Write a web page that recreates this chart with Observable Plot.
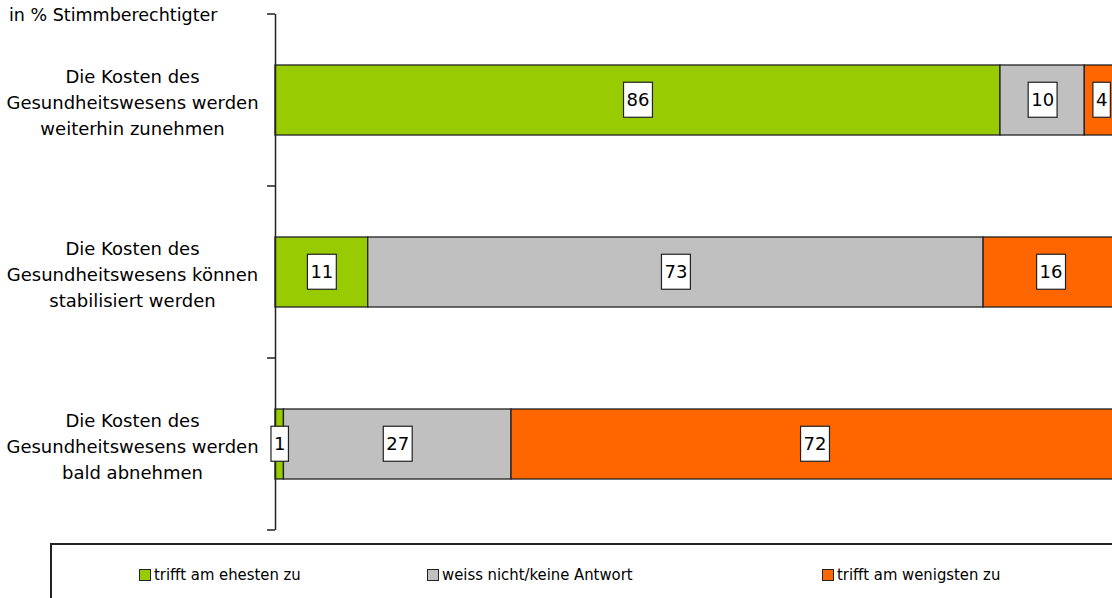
<!DOCTYPE html>
<html><head><meta charset="utf-8">
<script src="https://cdn.jsdelivr.net/npm/d3@7"></script>
<script src="https://cdn.jsdelivr.net/npm/@observablehq/plot@0.6"></script>
<style>
html,body{margin:0;padding:0;background:#fff;width:1112px;height:598px;overflow:hidden;}
body{position:relative;font-family:"DejaVu Sans",sans-serif;}
#chart{width:1118px;}
#chart svg{max-width:none !important;}
#unit{position:absolute;left:9px;top:5px;font-size:17.5px;color:#000;}
#legend{position:absolute;left:50px;top:543px;width:1100px;height:70px;border-top:2px solid #222;border-left:2px solid #222;font-family:"DejaVu Sans Condensed","DejaVu Sans",sans-serif;font-size:16.5px;}
.li{position:absolute;top:20px;display:flex;align-items:center;white-space:nowrap;}
.sw{width:10px;height:10px;border:1.5px solid #222;margin-right:3px;}
</style></head>
<body>
<div id="chart"></div>
<div id="unit">in % Stimmberechtigter</div>
<div id="legend"></div>
<script>
const categories = [
  "Die Kosten des\nGesundheitswesens werden\nweiterhin zunehmen",
  "Die Kosten des\nGesundheitswesens können\nstabilisiert werden",
  "Die Kosten des\nGesundheitswesens werden\nbald abnehmen"
];
const series = ["trifft am ehesten zu", "weiss nicht/keine Antwort", "trifft am wenigsten zu"];
const colors = ["#99cc00", "#c0c0c0", "#ff6600"];
const ehesten = [86, 11, 1];
const weissNicht = [10, 73, 27];
const wenigsten = [4, 16, 72];

const valuesBySeries = [ehesten, weissNicht, wenigsten];
const data = [];
categories.forEach((c, i) => {
  series.forEach((s, j) => data.push({cat: c, series: s, value: valuesBySeries[j][i]}));
});

const plot = Plot.plot({
  width: 1118,
  height: 543,
  marginLeft: 275,
  marginRight: 0,
  marginTop: 14,
  marginBottom: 13,
  style: {fontFamily: "DejaVu Sans, sans-serif", fontSize: "18px", color: "#000", background: "#fff"},
  x: {domain: [0, 100], axis: null},
  y: {domain: categories, padding: 0, axis: null, label: null},
  color: {domain: series, range: colors},
  marks: [
    Plot.barX(data, Plot.stackX({x: "value", y: "cat", fill: "series", order: series, insetTop: 51, insetBottom: 51, stroke: "#222", strokeWidth: 1.3})),
    Plot.ruleX([0], {stroke: "#222", strokeWidth: 1.5}),
    Plot.axisY({tickSize: 0, tickPadding: 143, textAnchor: "middle", lineHeight: 1.45, fontSize: 18, label: null, tickFormat: d => d}),
    Plot.text(data, Plot.stackX({x: "value", y: "cat", text: d => String(d.value), order: series, z: "series", className: "vals", fontSize: 18, fill: "#000"}))
  ]
});
document.getElementById("chart").appendChild(plot);

// boxes behind value labels
d3.select(plot).selectAll(".vals text").each(function() {
  const b = this.getBBox();
  const px = 3, py = 7;
  d3.select(this.parentNode).insert("rect", () => this)
    .attr("x", b.x - px).attr("y", b.y - py)
    .attr("width", b.width + 2 * px).attr("height", b.height + 2 * py)
    .attr("fill", "#fff").attr("stroke", "#222").attr("stroke-width", 1.2)
    .attr("transform", this.getAttribute("transform"));
});

// ticks at band boundaries
const ys = plot.scale("y");
const bounds = categories.map(c => ys.apply(c)).concat([ys.apply(categories[categories.length - 1]) + ys.bandwidth]);
const x0 = plot.scale("x").apply(0);
d3.select(plot).append("g").selectAll("line").data(bounds).join("line")
  .attr("x1", x0 - 8).attr("x2", x0).attr("y1", d => d).attr("y2", d => d)
  .attr("stroke", "#222").attr("stroke-width", 1.5);

// legend
const offsets = [87, 375, 770];
const leg = document.getElementById("legend");
series.forEach((s, i) => {
  const it = document.createElement("div");
  it.className = "li";
  it.style.left = offsets[i] + "px";
  it.innerHTML = `<span class="sw" style="background:${colors[i]}"></span><span>${s}</span>`;
  leg.appendChild(it);
});
</script>
</body></html>
